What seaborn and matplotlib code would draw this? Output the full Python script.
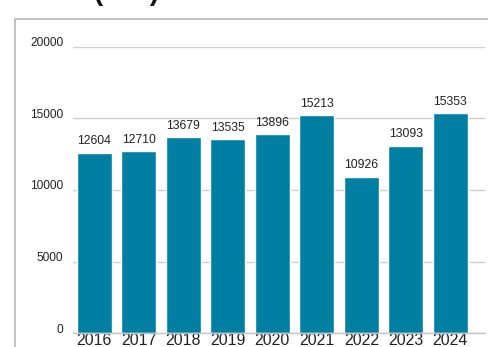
import matplotlib
matplotlib.use("Agg")
import matplotlib.pyplot as plt
import matplotlib.transforms as mtransforms
from matplotlib.patches import Rectangle
import seaborn as sns
import pandas as pd

# data
years = ["2016", "2017", "2018", "2019", "2020", "2021", "2022", "2023", "2024"]
values = [12604, 12710, 13679, 13535, 13896, 15213, 10926, 13093, 15353]
y_ticks = [0, 5000, 10000, 15000, 20000]

bar_color = "#007fa3"
grid_color = "#cfcfcf"

sns.set_theme(style="white")
plt.rcParams["font.family"] = ["Liberation Sans", "DejaVu Sans"]

df = pd.DataFrame({"year": years, "value": values})

fig = plt.figure(figsize=(4.89, 3.47), dpi=100)
ax = fig.add_axes([0.149, 0.0403, 0.843, 0.8243])

sns.barplot(data=df, x="year", y="value", color=bar_color, width=0.79,
            saturation=1, ax=ax)

ax.set_xlim(-0.48, 8.78)
ax.set_ylim(0, 20000)
ax.set_yticks(y_ticks)
ax.set_yticklabels([str(t) for t in y_ticks], fontsize=8.6, color="#222222")
ax.set_xlabel("")
ax.set_ylabel("")
ax.tick_params(axis="x", labelsize=11.4, pad=0, length=0, colors="#222222")
ax.tick_params(axis="y", pad=7, length=0)
ax.yaxis.grid(True, color=grid_color, linewidth=1)
ax.set_axisbelow(True)

# y labels sit a bit above their gridline
shift = mtransforms.ScaledTranslation(0, 5 / 100, fig.dpi_scale_trans)
for lbl in ax.get_yticklabels():
    lbl.set_transform(lbl.get_transform() + shift)

for s in ["top", "right", "left"]:
    ax.spines[s].set_visible(False)
ax.spines["bottom"].set_color("#c4c4c4")
ax.spines["bottom"].set_linewidth(1)

# value labels above each bar
for i, v in enumerate(values):
    ax.annotate(str(v), (i, v), xytext=(0, 4), textcoords="offset points",
                ha="center", va="bottom", fontsize=8.8, color="#222222")

# outer frame (cut off at right and bottom)
fig.patches.append(Rectangle((15 / 489, -0.1), 1.0, 1 - 19 / 347 + 0.1,
                             transform=fig.transFigure, fill=False,
                             edgecolor="#b8b8b8", linewidth=1.2))

# title, mostly cut off above the image
fig.text(0.258, 0.999, "(      )", fontsize=20, fontweight="bold",
         ha="center", va="baseline", color="#111111")

fig.savefig("out.png", dpi=100)
